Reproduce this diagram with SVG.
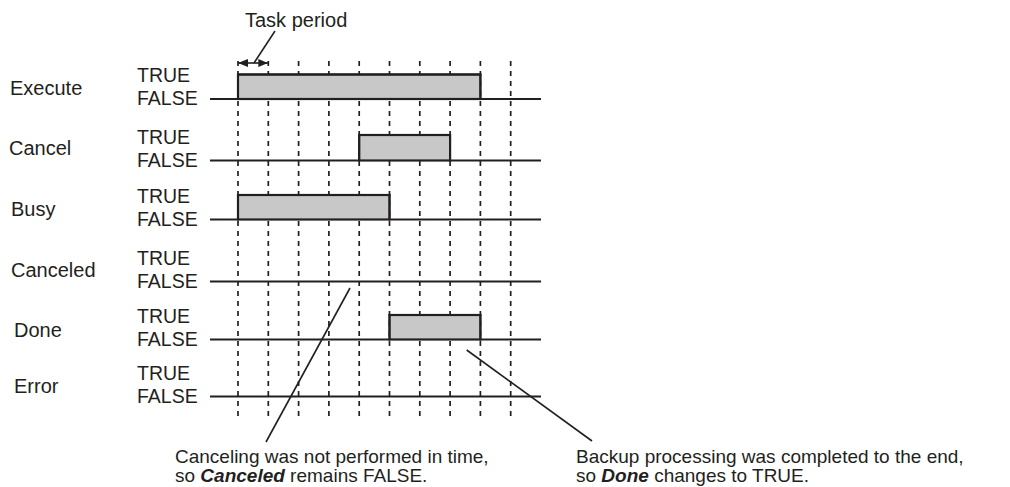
<svg xmlns="http://www.w3.org/2000/svg" width="1010" height="487" viewBox="0 0 1010 487">
<style>
text{font-family:"Liberation Sans",Arial,sans-serif;font-size:20px;fill:#231f20}
.lv{font-size:19.5px}
.note{font-size:19px}
.grid line{stroke:#231f20;stroke-width:1.7;stroke-dasharray:5 5}
.sig{fill:none;stroke:#231f20;stroke-width:1.8}
.pulse{fill:#c8c8c8;stroke:#231f20;stroke-width:2.2;stroke-linejoin:miter}
.lead{stroke:#231f20;stroke-width:1.6;fill:none}
</style>
<defs>
<marker id="ah" viewBox="0 0 10 8" refX="10" refY="4" markerWidth="10" markerHeight="8" markerUnits="userSpaceOnUse" orient="auto-start-reverse">
<path d="M0,0 L10,4 L0,8 Z" fill="#231f20"/>
</marker>
</defs>
<rect width="1010" height="487" fill="#fff"/>
<g id="grid" class="grid">
<line x1="238" y1="61" x2="238" y2="420"/>
<line x1="268.3" y1="61" x2="268.3" y2="420"/>
<line x1="298.6" y1="61" x2="298.6" y2="420"/>
<line x1="328.9" y1="61" x2="328.9" y2="420"/>
<line x1="359.2" y1="61" x2="359.2" y2="420"/>
<line x1="389.5" y1="61" x2="389.5" y2="420"/>
<line x1="419.8" y1="61" x2="419.8" y2="420"/>
<line x1="450.1" y1="61" x2="450.1" y2="420"/>
<line x1="480.4" y1="61" x2="480.4" y2="420"/>
<line x1="510.7" y1="61" x2="510.7" y2="420"/>
</g>
<g id="execute">
<text x="10" y="95">Execute</text>
<text class="lv" x="137" y="82">TRUE</text>
<text class="lv" x="137" y="105">FALSE</text>
<rect class="pulse" x="238" y="74.5" width="242.4" height="24.5"/>
<path class="sig" d="M210,99 H238 V74.5 H480.4 V99 H541"/>
</g>
<g id="cancel">
<text x="9" y="155">Cancel</text>
<text class="lv" x="137" y="143.5">TRUE</text>
<text class="lv" x="137" y="166.5">FALSE</text>
<rect class="pulse" x="359.2" y="135" width="90.9" height="25.5"/>
<path class="sig" d="M210,160.5 H359.2 V135 H450.1 V160.5 H541"/>
</g>
<g id="busy">
<text x="11" y="216">Busy</text>
<text class="lv" x="137" y="202.5">TRUE</text>
<text class="lv" x="137" y="225.5">FALSE</text>
<rect class="pulse" x="238" y="195" width="151.5" height="24.5"/>
<path class="sig" d="M210,219.5 H238 V195 H389.5 V219.5 H541"/>
</g>
<g id="canceled">
<text x="11" y="277">Canceled</text>
<text class="lv" x="137" y="264.5">TRUE</text>
<text class="lv" x="137" y="287.5">FALSE</text>
<path class="sig" d="M210,281.5 H541"/>
</g>
<g id="done">
<text x="14" y="337">Done</text>
<text class="lv" x="137" y="322.5">TRUE</text>
<text class="lv" x="137" y="345.5">FALSE</text>
<rect class="pulse" x="389.5" y="315" width="90.9" height="24.5"/>
<path class="sig" d="M210,339.5 H389.5 V315 H480.4 V339.5 H541"/>
</g>
<g id="error">
<text x="14" y="393">Error</text>
<text class="lv" x="137" y="379.5">TRUE</text>
<text class="lv" x="137" y="402.5">FALSE</text>
<path class="sig" d="M210,396.5 H541"/>
</g>
<g id="connectors">
<line class="lead" x1="238" y1="63" x2="268.3" y2="63" marker-start="url(#ah)" marker-end="url(#ah)"/>
<line class="lead" x1="275" y1="31" x2="254" y2="63"/>
<line class="lead" x1="350" y1="288" x2="266" y2="442"/>
<line class="lead" x1="466.7" y1="350" x2="592" y2="441"/>
</g>
<g id="notes">
<text x="245" y="27">Task period</text>
<text class="note" x="175" y="463">Canceling was not performed in time,</text>
<text class="note" x="175" y="482">so <tspan font-weight="bold" font-style="italic">Canceled</tspan> remains FALSE.</text>
<text class="note" x="576" y="463">Backup processing was completed to the end,</text>
<text class="note" x="576" y="482">so <tspan font-weight="bold" font-style="italic">Done</tspan> changes to TRUE.</text>
</g>
</svg>
